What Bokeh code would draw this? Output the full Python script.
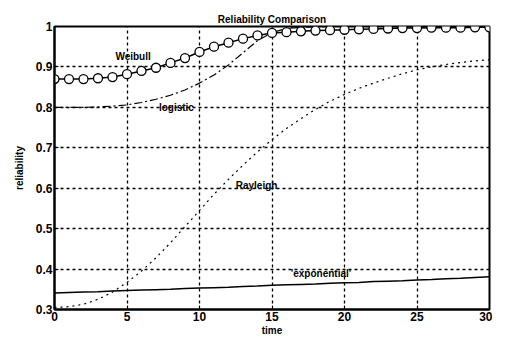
from bokeh.plotting import figure
from bokeh.embed import file_html
from bokeh.resources import INLINE
from bokeh.models import Label, FixedTicker

time = list(range(0, 31))
weibull = [0.870, 0.870, 0.870, 0.872, 0.875, 0.882, 0.890, 0.898, 0.910, 0.922,
           0.937, 0.950, 0.960, 0.970, 0.978, 0.984, 0.986, 0.988, 0.990, 0.991,
           0.992, 0.993, 0.994, 0.995, 0.996, 0.996, 0.997, 0.997, 0.997, 0.998, 0.998]
logistic = [0.800, 0.800, 0.800, 0.801, 0.803, 0.806, 0.812, 0.820, 0.830, 0.843,
            0.860, 0.880, 0.905, 0.935, 0.965, 0.985, 0.995, 0.998, 0.999, 1.0,
            1.0, 1.0, 1.0, 1.0, 1.0, 1.0, 1.0, 1.0, 1.0, 1.0, 1.0]
rayleigh = [0.305, 0.307, 0.313, 0.325, 0.343, 0.367, 0.395, 0.428, 0.465, 0.505,
            0.545, 0.585, 0.622, 0.657, 0.690, 0.720, 0.748, 0.772, 0.795, 0.815,
            0.832, 0.847, 0.860, 0.872, 0.883, 0.893, 0.900, 0.906, 0.911, 0.915, 0.918]
exponential = [0.341, 0.342, 0.343, 0.344, 0.346, 0.347, 0.348, 0.349, 0.350, 0.352,
               0.353, 0.354, 0.355, 0.357, 0.358, 0.360, 0.361, 0.362, 0.363, 0.365,
               0.366, 0.367, 0.369, 0.370, 0.371, 0.373, 0.374, 0.376, 0.377, 0.379, 0.381]

x_ticks = [0, 5, 10, 15, 20, 25, 30]
y_ticks = [0.3, 0.4, 0.5, 0.6, 0.7, 0.8, 0.9, 1.0]

labels = [("Weibull", 4.2, 0.925), ("logistic", 7.2, 0.800), ("Rayleigh", 12.5, 0.607),
          ("'exponential'", 16.3, 0.388)]

FONT = "Liberation Sans"

p = figure(width=492, height=338, x_range=(0, 30), y_range=(0.3, 1.0),
           output_backend="svg", toolbar_location=None,
           min_border_left=54, min_border_right=3, min_border_top=26, min_border_bottom=20,
           title="Reliability Comparison")
p.title.align = "center"
p.title.text_font = FONT
p.title.text_font_size = "10px"
p.title.text_font_style = "bold"
p.title.text_color = "black"
p.title.offset = 0
p.title.standoff = 4

for ax in (p.xaxis[0], p.yaxis[0]):
    ax.major_label_text_font = FONT
    ax.major_label_text_font_size = "12px"
    ax.major_label_text_font_style = "bold"
    ax.major_label_text_color = "black"
    ax.axis_label_text_font = FONT
    ax.axis_label_text_font_size = "10px"
    ax.axis_label_text_font_style = "bold"
    ax.axis_label_text_color = "black"
    ax.axis_label_standoff = 1
    ax.major_tick_in = 4
    ax.major_tick_out = 0
    ax.minor_tick_line_color = None
    ax.axis_line_width = 2
    ax.axis_line_color = "black"
    ax.major_tick_line_color = "black"
    ax.major_label_standoff = 2

p.xaxis.ticker = FixedTicker(ticks=x_ticks)
p.yaxis.ticker = FixedTicker(ticks=y_ticks)
p.yaxis.major_label_overrides = {0.3: "0.3", 0.4: "0.4", 0.5: "0.5", 0.6: "0.6",
                                 0.7: "0.7", 0.8: "0.8", 0.9: "0.9", 1.0: "1"}
p.xaxis.axis_label = "time"
p.yaxis.axis_label = "reliability"
p.yaxis.axis_label_standoff = 8

p.outline_line_color = "black"
p.outline_line_width = 2
p.xgrid.ticker = FixedTicker(ticks=x_ticks)
p.ygrid.ticker = FixedTicker(ticks=y_ticks)
p.grid.grid_line_color = "black"
p.grid.grid_line_dash = "3 3"
p.grid.grid_line_width = 1.3
p.grid.grid_line_alpha = 1.0

p.line(time, exponential, line_color="black", line_width=1.5)
p.line(time, rayleigh, line_color="black", line_width=1.2, line_dash="2 4")
p.line(time, logistic, line_color="black", line_width=1.2, line_dash="8 3 2 3")
p.line(time, weibull, line_color="black", line_width=1.5)
p.scatter(time, weibull, marker="circle", size=9, fill_color="white",
          line_color="black", line_width=1.3)

for txt, lx, ly in labels:
    p.add_layout(Label(x=lx, y=ly, text=txt, text_font=FONT, text_font_size="10px",
                       text_font_style="bold", text_baseline="middle", text_color="black"))

p.background_fill_color = "white"
p.border_fill_color = "white"

open("out.html", "w").write(file_html(p, INLINE))
